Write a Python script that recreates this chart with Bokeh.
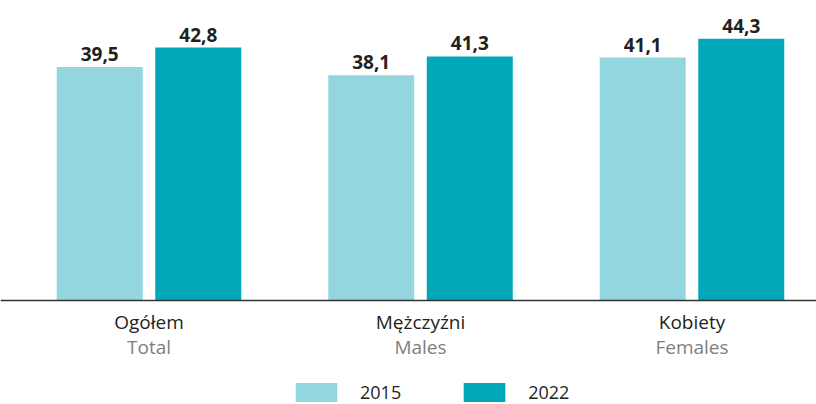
from bokeh.plotting import figure
from bokeh.models import ColumnDataSource, Range1d, Span, Legend, LegendItem
from bokeh.core.properties import value
from bokeh.transform import dodge
from bokeh.embed import file_html
from bokeh.resources import INLINE

categories_pl = ["Ogółem", "Mężczyźni", "Kobiety"]
categories_en = ["Total", "Males", "Females"]
years = ["2015", "2022"]
values_2015 = [39.5, 38.1, 41.1]
values_2022 = [42.8, 41.3, 44.3]

C15 = "#94D6DF"
C22 = "#00A8BA"
DARK = "#231F20"
GREY = "#7F7F7F"
FONT = "Open Sans"

def fmt(v):
    return f"{v:.1f}".replace(".", ",")

src = ColumnDataSource(dict(
    x=list(range(len(categories_pl))),
    pl=categories_pl,
    en=categories_en,
    v15=values_2015,
    v22=values_2022,
    l15=[fmt(v) for v in values_2015],
    l22=[fmt(v) for v in values_2022],
    zero=[0] * len(categories_pl),
))

p = figure(width=816, height=404, output_backend="svg", toolbar_location=None,
           x_range=Range1d(-0.547, 2.4586), y_range=Range1d(-17.60, 50.76),
           min_border=0, min_border_left=0, min_border_right=0,
           min_border_top=0, min_border_bottom=0)
p.xaxis.visible = False
p.yaxis.visible = False
p.grid.visible = False
p.outline_line_color = None
p.background_fill_color = None
p.border_fill_color = None

off = 0.1815
w = 86 / 271.5
r1 = p.vbar(x=dodge("x", -off), top="v15", bottom=0, width=w, source=src,
            fill_color=C15, line_color=None)
r2 = p.vbar(x=dodge("x", off), top="v22", bottom=0, width=w, source=src,
            fill_color=C22, line_color=None)

p.add_layout(Span(location=0, dimension="width", line_color="#333333", line_width=1.3))

p.text(x=dodge("x", -off), y="v15", text="l15", source=src, text_align="center",
       text_baseline="bottom", y_offset=-6, text_font=value(FONT),
       text_font_size="19px", text_font_style="bold", text_color=DARK)
p.text(x=dodge("x", off), y="v22", text="l22", source=src, text_align="center",
       text_baseline="bottom", y_offset=-6, text_font=value(FONT),
       text_font_size="19px", text_font_style="bold", text_color=DARK)

p.text(x="x", y="zero", text="pl", source=src, text_align="center",
       text_baseline="middle", y_offset=22, text_font=value(FONT),
       text_font_size="19px", text_color=DARK)
p.text(x="x", y="zero", text="en", source=src, text_align="center",
       text_baseline="middle", y_offset=47, text_font=value(FONT),
       text_font_size="19px", text_color=GREY)

legend = Legend(items=[LegendItem(label=years[0], renderers=[r1]),
                       LegendItem(label=years[1], renderers=[r2])],
                orientation="horizontal", location=(290, 0),
                glyph_width=52, glyph_height=24, label_standoff=18, spacing=57,
                padding=0, margin=0, border_line_color=None,
                background_fill_alpha=0, label_text_font=FONT,
                label_text_font_size="18px", label_text_color=DARK)
p.add_layout(legend, "center")

open("out.html", "w").write(file_html(p, INLINE))
